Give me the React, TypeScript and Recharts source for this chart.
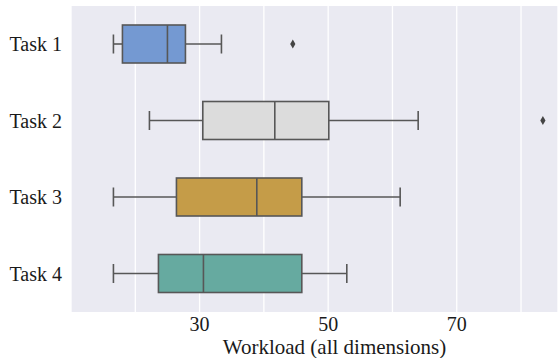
import React from "react";
import {
  ComposedChart,
  Bar,
  XAxis,
  YAxis,
  CartesianGrid,
} from "recharts";

// Values
const tasks = ["Task 1", "Task 2", "Task 3", "Task 4"];
const whiskerLow = [16.6, 22.2, 16.6, 16.6];
const q1 = [18.0, 30.5, 26.4, 23.6];
const median = [25.0, 41.7, 38.9, 30.6];
const q3 = [27.8, 50.1, 45.9, 45.9];
const whiskerHigh = [33.4, 64.0, 61.2, 52.9];
const outliers = [[44.5], [83.4], [], []];
const fills = ["#7499d2", "#dcdcdc", "#c59c48", "#66aaa0"];

const gridTicks = [20, 30, 40, 50, 60, 70, 80];
const labelledTicks = [30, 50, 70];

const EDGE = "#575757";
const FONT = "'Liberation Serif', 'Times New Roman', serif";

const data = tasks.map((name, i) => ({
  name,
  range: [whiskerLow[i], whiskerHigh[i]],
  low: whiskerLow[i],
  q1: q1[i],
  median: median[i],
  q3: q3[i],
  high: whiskerHigh[i],
  outliers: outliers[i],
  fill: fills[i],
}));

// Draws one horizontal box; the bar spans low..high whisker, so inner
// positions come from the same linear x scale.
const BoxShape = (props: any) => {
  const { x, y, width, height, payload } = props;
  const lo = payload.low;
  const hi = payload.high;
  const px = (v: number) => x + ((v - lo) / (hi - lo)) * width;
  const cy = y + height / 2;
  const capH = height / 2;
  return (
    <g stroke={EDGE} strokeWidth={1.6}>
      <line x1={px(lo)} x2={px(payload.q1)} y1={cy} y2={cy} />
      <line x1={px(payload.q3)} x2={px(hi)} y1={cy} y2={cy} />
      <line x1={px(lo)} x2={px(lo)} y1={cy - capH / 2} y2={cy + capH / 2} />
      <line x1={px(hi)} x2={px(hi)} y1={cy - capH / 2} y2={cy + capH / 2} />
      <rect
        x={px(payload.q1)}
        y={y}
        width={px(payload.q3) - px(payload.q1)}
        height={height}
        fill={payload.fill}
      />
      <line
        x1={px(payload.median)}
        x2={px(payload.median)}
        y1={y}
        y2={y + height}
      />
      {payload.outliers.map((o: number, k: number) => {
        const ox = px(o);
        return (
          <path
            key={k}
            d={`M${ox},${cy - 4.5} L${ox + 2.6},${cy} L${ox},${cy + 4.5} L${ox - 2.6},${cy} Z`}
            fill="#444"
            stroke="none"
          />
        );
      })}
    </g>
  );
};

export default function App() {
  return (
    <div style={{ position: "absolute", left: 0, top: 0, width: 558, height: 358 }}>
      <ComposedChart
        width={558}
        height={358}
        data={data}
        layout="vertical"
        margin={{ top: 6, right: 0, bottom: 0, left: 0 }}
        barCategoryGap={0}
      >
        <CartesianGrid
          horizontal={false}
          stroke="#ffffff"
          strokeWidth={1.3}
          fill="#eaeaf2"
          fillOpacity={1}
        />
        <XAxis
          type="number"
          domain={[10, 85.75]}
          ticks={gridTicks}
          allowDataOverflow
          axisLine={false}
          tickLine={false}
          tickSize={0}
          tickMargin={5}
          height={46}
          tickFormatter={(v: number) => (labelledTicks.includes(v) ? String(v) : "")}
          tick={{ fontSize: 20, fill: "#1a1a1a", fontFamily: FONT }}
          label={{
            value: "Workload (all dimensions)",
            position: "insideBottom",
            offset: 4,
            dx: 20,
            style: { fontSize: 21, fill: "#1a1a1a", fontFamily: FONT },
          }}
        />
        <YAxis
          type="category"
          dataKey="name"
          width={71}
          axisLine={false}
          tickLine={false}
          tickSize={0}
          tickMargin={9}
          tick={{ fontSize: 20, fill: "#1a1a1a", fontFamily: FONT }}
        />
        <Bar
          dataKey="range"
          barSize={38}
          shape={BoxShape}
          isAnimationActive={false}
        />
      </ComposedChart>
    </div>
  );
}
